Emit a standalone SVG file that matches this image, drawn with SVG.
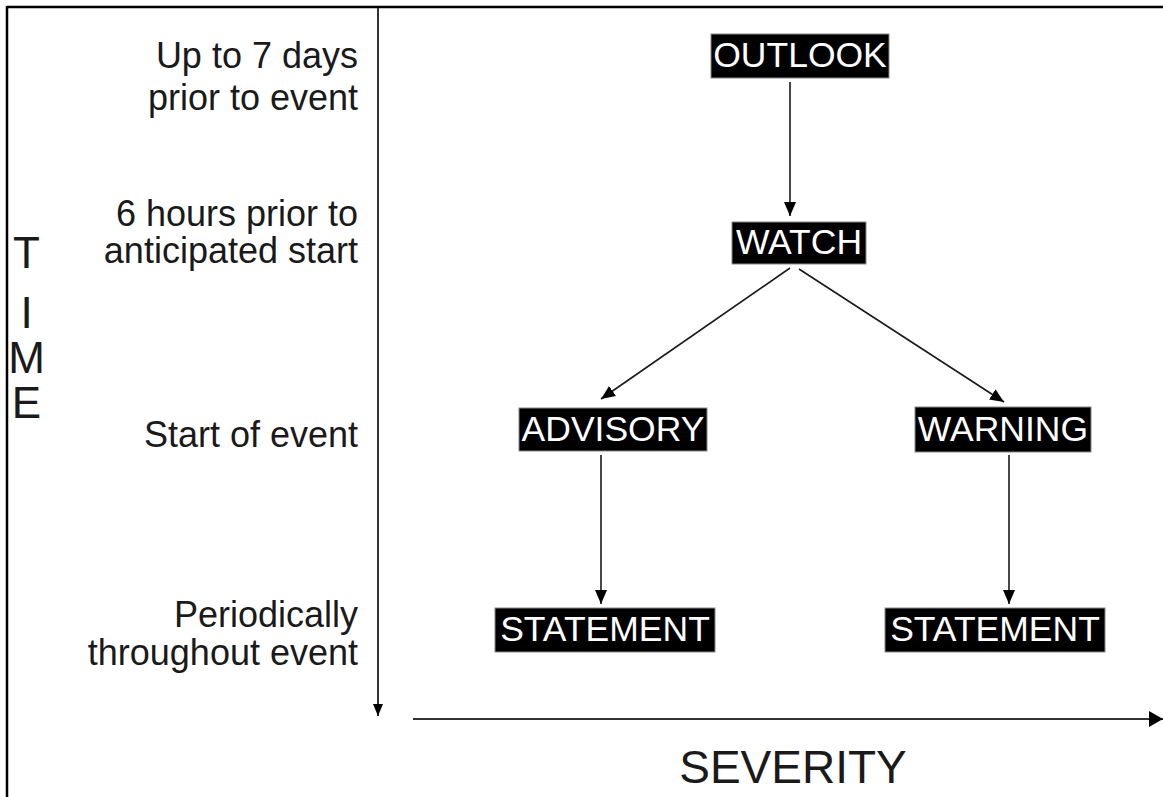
<svg xmlns="http://www.w3.org/2000/svg" width="1163" height="797" viewBox="0 0 1163 797">
<style>
  .lbl { font-family: "Liberation Sans", Arial, sans-serif; font-size: 36px; fill: #1a1a1a; text-anchor: end; }
  .axis { font-family: "Liberation Sans", Arial, sans-serif; fill: #1a1a1a; text-anchor: middle; }
  .box { fill: #000; stroke: #888; stroke-width: 1; }
  .nt { font-family: "Liberation Sans", Arial, sans-serif; font-size: 35.5px; fill: #fff; text-anchor: middle; }
  .conn { stroke: #1a1a1a; stroke-width: 1.6; fill: none; }
  .ax { stroke: #333; stroke-width: 2; fill: none; }
</style>
<defs>
  <marker id="ah" markerUnits="userSpaceOnUse" markerWidth="14" markerHeight="14" viewBox="0 0 14 14" refX="14" refY="7" orient="auto">
    <path d="M0,1 L14,7 L0,13 Z" fill="#000"/>
  </marker>
  <marker id="ahs" markerUnits="userSpaceOnUse" markerWidth="12" markerHeight="12" viewBox="0 0 12 12" refX="12" refY="6" orient="auto">
    <path d="M0,1 L12,6 L0,11 Z" fill="#000"/>
  </marker>
  <marker id="ahb" markerUnits="userSpaceOnUse" markerWidth="14" markerHeight="16" viewBox="0 0 14 16" refX="14" refY="8" orient="auto">
    <path d="M0,0 L14,8 L0,16 Z" fill="#000"/>
  </marker>
</defs>
<rect width="1163" height="797" fill="#fff"/>
<g id="frame">
  <line x1="7" y1="7" x2="1163" y2="7" stroke="#000" stroke-width="2.5"/>
  <line x1="7" y1="6" x2="7" y2="797" stroke="#000" stroke-width="2.5"/>
</g>
<g id="time-labels">
  <text class="lbl" y="68"><tspan x="358">Up to 7 days</tspan><tspan x="358" y="110">prior to event</tspan></text>
  <text class="lbl" y="226"><tspan x="358">6 hours prior to</tspan><tspan x="358" y="263">anticipated start</tspan></text>
  <text class="lbl" x="358" y="447">Start of event</text>
  <text class="lbl" x="358" y="627" font-size="35">Periodically</text>
  <text class="lbl" x="358" y="665" font-size="35">throughout event</text>
</g>
<g id="time-axis-label">
  <text class="axis" font-size="44" y="268"><tspan x="26.5">T</tspan><tspan x="26.5" y="328">I</tspan><tspan x="26.5" y="373">M</tspan><tspan x="26.5" y="418">E</tspan></text>
</g>
<g id="severity-label">
  <text class="axis" font-size="46" x="793" y="783">SEVERITY</text>
</g>
<g id="connectors">
  <line class="ax" x1="378" y1="8" x2="378" y2="716" marker-end="url(#ahs)"/>
  <line class="ax" x1="413" y1="719" x2="1163" y2="719" marker-end="url(#ahb)"/>
  <line class="conn" x1="790" y1="82" x2="790" y2="216" marker-end="url(#ah)"/>
  <line class="conn" x1="790" y1="268" x2="601" y2="399" marker-end="url(#ah)"/>
  <line class="conn" x1="799" y1="269" x2="1004" y2="402" marker-end="url(#ah)"/>
  <line class="conn" x1="601" y1="455" x2="601" y2="604" marker-end="url(#ah)"/>
  <line class="conn" x1="1009" y1="455" x2="1009" y2="604" marker-end="url(#ah)"/>
</g>
<g id="outlook">
  <rect class="box" x="711" y="34" width="178" height="44"/>
  <text class="nt" x="800" y="67">OUTLOOK</text>
</g>
<g id="watch">
  <rect class="box" x="732" y="222" width="134" height="42"/>
  <text class="nt" x="799" y="254">WATCH</text>
</g>
<g id="advisory">
  <rect class="box" x="519" y="408" width="188" height="43"/>
  <text class="nt" x="613" y="441">ADVISORY</text>
</g>
<g id="warning">
  <rect class="box" x="915" y="407" width="176" height="45"/>
  <text class="nt" x="1003" y="441">WARNING</text>
</g>
<g id="statement-advisory">
  <rect class="box" x="495" y="608" width="220" height="44"/>
  <text class="nt" x="605" y="641">STATEMENT</text>
</g>
<g id="statement-warning">
  <rect class="box" x="885" y="608" width="220" height="44"/>
  <text class="nt" x="995" y="641">STATEMENT</text>
</g>
</svg>
